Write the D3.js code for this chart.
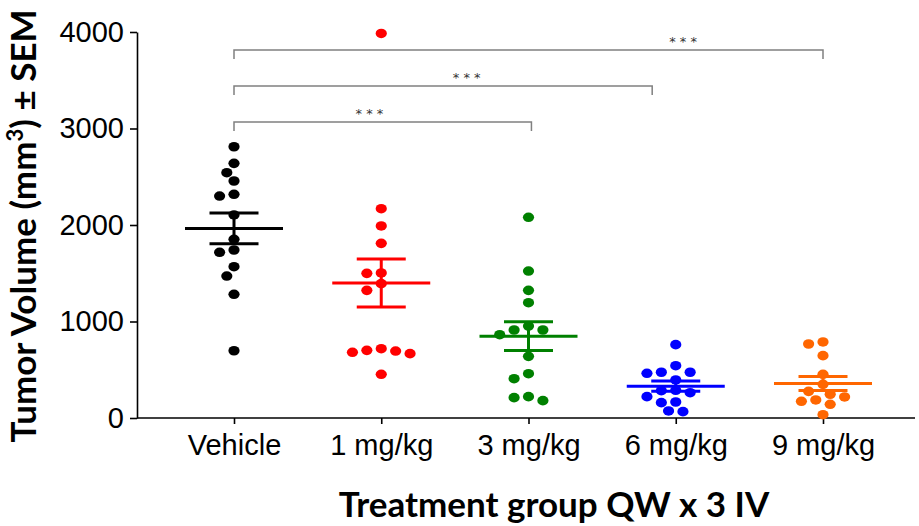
<!DOCTYPE html>
<html>
<head>
<meta charset="utf-8">
<script src="https://cdn.jsdelivr.net/npm/d3@7"></script>
<style>
  body { margin: 0; background: #fff; }
  svg { font-family: Lato, "Open Sans", sans-serif; }
</style>
</head>
<body>
<div id="chart"></div>
<script>
// groups and their colours
var groups = ["Vehicle", "1 mg/kg", "3 mg/kg", "6 mg/kg", "9 mg/kg"];
var colors = ["#000000", "#ff0000", "#008000", "#0000ff", "#ff6600"];

// tumor volumes (mm3) per animal
var vehicle = [2811, 2639, 2542, 2456, 2318, 2300, 2104, 1852, 1741, 1717, 1568, 1471, 1282, 697];
var dose1 = [3985, 2169, 1990, 1810, 1503, 1499, 1392, 1323, 718, 701, 694, 681, 667, 453];
var dose3 = [2080, 1523, 1323, 1195, 953, 912, 912, 863, 639, 459, 407, 221, 211, 180];
var dose6 = [760, 542, 474, 474, 463, 394, 287, 283, 262, 221, 166, 159, 73, 66];
var dose9 = [788, 767, 646, 453, 349, 276, 246, 218, 187, 173, 142, 34];
var values = [vehicle, dose1, dose3, dose6, dose9];

var yTicks = [0, 1000, 2000, 3000, 4000];

// significance brackets (from group index to group index, label position in index units)
var brackets = [
  {from: 0, to: 2.02, level: 3067, starAt: 0.92, label: "* * *"},
  {from: 0, to: 2.84, level: 3440, starAt: 1.58, label: "* * *"},
  {from: 0, to: 4.0, level: 3813, starAt: 3.05, label: "* * *"}
];

var width = 919, height = 526;

var svg = d3.select("#chart")
  .append("svg")
  .attr("width", width)
  .attr("height", height);

// Scales
var x = d3.scalePoint()
    .domain(groups)
    .range([234, 823]);
var xi = d3.scaleLinear()   // same positions, but by index, for the brackets
    .domain([0, groups.length - 1])
    .range([234, 823]);
var y = d3.scaleLinear()
    .domain([0, 4000])
    .range([418, 32]);

// simple beeswarm: put each point at the smallest offset that does not hit a placed one
function swarm(vals) {
  var step = 7.2, rx = 11, ry = 10;
  var placed = [];
  vals.slice().sort(function(a, b) { return b - a; }).forEach(function(v) {
    var py = y(v);
    for (var k = 0; k < 40; k++) {
      var off = (k % 2 ? -1 : 1) * Math.ceil(k / 2) * step;
      var hit = placed.some(function(p) {
        var dx = (p.off - off) / rx, dy = (p.py - py) / ry;
        return dx * dx + dy * dy < 1;
      });
      if (!hit) { placed.push({v: v, py: py, off: off}); break; }
    }
  });
  return placed;
}

// Y axis
var yAxis = svg.append("g")
  .attr("transform", "translate(137,0)")
  .call(d3.axisLeft(y).tickValues(yTicks).tickSize(7).tickSizeOuter(0).tickPadding(6).tickFormat(d3.format("d")));
yAxis.selectAll("path, line").attr("stroke", "#000").attr("stroke-width", 1.6);
yAxis.selectAll("text").attr("fill", "#000").style("font-size", "29px");

// X axis (line runs across the whole plot)
svg.append("line")
  .attr("x1", 137).attr("x2", 915)
  .attr("y1", y(0)).attr("y2", y(0))
  .attr("stroke", "#000").attr("stroke-width", 1.6);
var xAxis = svg.append("g")
  .attr("transform", "translate(0," + y(0) + ")")
  .call(d3.axisBottom(x).tickSize(6).tickPadding(10));
xAxis.select(".domain").remove();
xAxis.selectAll("line").attr("stroke", "#000").attr("stroke-width", 1.6);
xAxis.selectAll("text").attr("fill", "#000").style("font-size", "29px");

// the dots
groups.forEach(function(g, i) {
  svg.append("g")
    .selectAll("ellipse")
    .data(swarm(values[i]))
    .enter()
    .append("ellipse")
    .attr("cx", function(d) { return x(g) + d.off; })
    .attr("cy", function(d) { return d.py; })
    .attr("rx", 5.6)
    .attr("ry", 4.8)
    .attr("fill", colors[i]);
});

// mean and SEM
groups.forEach(function(g, i) {
  var m = d3.mean(values[i]);
  var sem = d3.deviation(values[i]) / Math.sqrt(values[i].length);
  var cx = x(g);
  var bar = svg.append("g")
    .attr("stroke", colors[i])
    .attr("stroke-width", 3);
  bar.append("line").attr("x1", cx - 49).attr("x2", cx + 49).attr("y1", y(m)).attr("y2", y(m));
  bar.append("line").attr("x1", cx).attr("x2", cx).attr("y1", y(m - sem)).attr("y2", y(m + sem));
  bar.append("line").attr("x1", cx - 24.5).attr("x2", cx + 24.5).attr("y1", y(m + sem)).attr("y2", y(m + sem));
  bar.append("line").attr("x1", cx - 24.5).attr("x2", cx + 24.5).attr("y1", y(m - sem)).attr("y2", y(m - sem));
});

// significance brackets
var br = svg.append("g")
  .selectAll("g")
  .data(brackets)
  .enter()
  .append("g");
br.append("path")
  .attr("d", function(d) {
    var yy = y(d.level);
    return "M" + xi(d.from) + "," + (yy + 9) + "V" + yy + "H" + xi(d.to) + "V" + (yy + 9);
  })
  .attr("fill", "none")
  .attr("stroke", "#808080")
  .attr("stroke-width", 1.5);
br.append("text")
  .attr("x", function(d) { return xi(d.starAt); })
  .attr("y", function(d) { return y(d.level) - 4; })
  .attr("text-anchor", "middle")
  .style("font-family", "'DejaVu Sans', sans-serif")
  .style("font-size", "13px")
  .style("fill", "#333")
  .text(function(d) { return d.label; });

// axis titles
svg.append("text")
  .attr("transform", "translate(36,226) rotate(-90)")
  .attr("text-anchor", "middle")
  .style("font-size", "35px")
  .style("font-weight", "bold")
  .style("fill", "#000")
  .html("Tumor Volume (mm<tspan dy='-13' style='font-size:22px'>3</tspan><tspan dy='13'>) ± SEM</tspan>");

svg.append("text")
  .attr("x", 554)
  .attr("y", 517)
  .attr("text-anchor", "middle")
  .style("font-size", "35px")
  .style("font-weight", "bold")
  .style("fill", "#000")
  .text("Treatment group QW x 3 IV");
</script>
</body>
</html>
